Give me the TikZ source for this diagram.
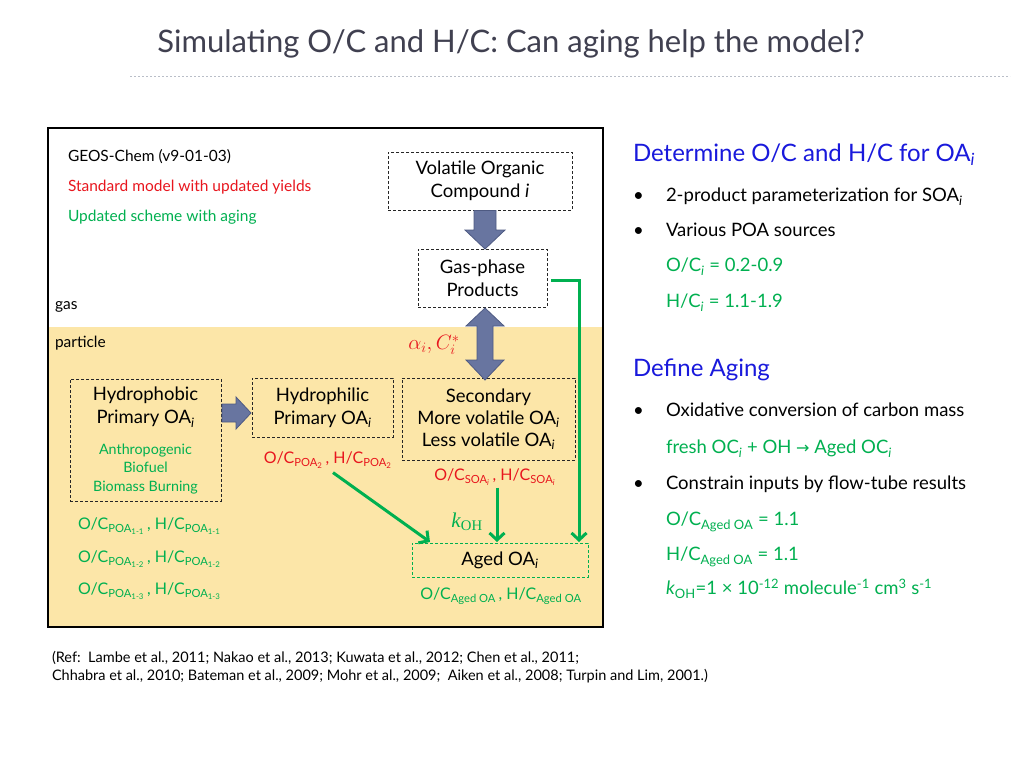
\documentclass[tikz,border=0pt]{standalone}
\usepackage{fontspec}
\setmainfont{Lato}
\newfontfamily\seriffont{Liberation Serif}
\newfontfamily\symfont{DejaVu Sans}
\usetikzlibrary{arrows.meta,calc}
\definecolor{tgray}{RGB}{64,64,80}
\definecolor{rred}{RGB}{232,22,30}
\definecolor{ggreen}{RGB}{0,176,80}
\definecolor{bblue}{RGB}{25,25,220}
\definecolor{pyellow}{RGB}{252,230,168}
\definecolor{afill}{RGB}{104,117,160}
\definecolor{aline}{RGB}{78,90,130}
\definecolor{dotgray}{RGB}{185,190,200}
\newcommand{\sbs}[1]{\textsubscript{#1}}
\newcommand{\sps}[1]{\textsuperscript{#1}}
\begin{document}
\begin{tikzpicture}[x=1pt,y=-1pt,
  every node/.style={inner sep=0pt,outer sep=0pt},
  lbl/.style={anchor=west,text height=0.72em,text depth=0pt},
  clbl/.style={anchor=center,text height=0.72em,text depth=0pt},
  bigf/.style={font=\fontsize{18.5}{23}\selectfont},
  smf/.style={font=\fontsize{15.5}{18}\selectfont},
  srcf/.style={font=\fontsize{14.3}{17}\selectfont},
  lblf/.style={font=\fontsize{16}{19}\selectfont},
  rf/.style={font=\fontsize{18.5}{22}\selectfont},
  hf/.style={font=\fontsize{24}{28}\selectfont},
  reff/.style={font=\fontsize{14.5}{17}\selectfont},
  dbox/.style={draw=black!85,dash pattern=on 3pt off 2pt,line width=0.9pt,align=center,bigf},
  gbox/.style={dbox,draw=ggreen},
  garrow/.style={draw=ggreen,line width=3pt,-{Straight Barb[length=7pt,width=15pt]}},
  bigarrow/.style={fill=afill,draw=aline,line width=0.8pt}
]
\useasboundingbox (0,0) rectangle (1024,768);
\fill[white] (0,0) rectangle (1024,768);
% title
\node[clbl,text=tgray,font=\fontsize{31}{34}\selectfont] (title) at (511,49) {Simulating O/C and H/C: Can aging help the model?};
\draw[dotgray,line width=0.8pt,dash pattern=on 2pt off 2pt] (130,76) -- (1010,76);
% panel
\fill[pyellow] (48,327) rectangle (603,627);
\draw[line width=2pt] (48,128) rectangle (603,627);
\node[lbl,smf] (geos) at (68,158) {GEOS-Chem (v9-01-03)};
\node[lbl,smf,text=rred] (std) at (68,188) {Standard model with updated yields};
\node[lbl,smf,text=ggreen] (upd) at (68,218) {Updated scheme with aging};
\node[lbl,smf] (gaslbl) at (55,306) {gas};
\node[lbl,smf] (partlbl) at (55,344) {particle};
% boxes
\node[dbox,minimum width=184pt,minimum height=58pt] (voc) at (480,181) {Volatile Organic\\Compound \textit{i}};
\node[dbox,minimum width=129pt,minimum height=58pt] (gas) at (482.5,278) {Gas-phase\\Products};
\node[dbox,minimum width=151pt,minimum height=122pt] (hphob) at (145.5,440) {};
\node[dbox,minimum width=141pt,minimum height=59pt] (hphil) at (322.5,407.5) {Hydrophilic\\Primary OA\sbs{\textit{i}}};
\node[dbox,minimum width=173pt,minimum height=82pt,font=\fontsize{18.5}{22}\selectfont] (sec) at (488.5,419) {Secondary\\More volatile OA\sbs{\textit{i}}\\Less volatile OA\sbs{\textit{i}}};
\node[gbox,minimum width=176pt,minimum height=34pt] (aged) at (500,560) {Aged OA\sbs{\textit{i}}};
% hydrophobic contents
\node[clbl,bigf] (hphobA) at (145.5,397) {Hydrophobic};
\node[clbl,bigf] (hphobB) at (145.5,420) {Primary OA\sbs{\textit{i}}};
\node[clbl,srcf,text=ggreen] (src1) at (145.5,451) {Anthropogenic};
\node[clbl,srcf,text=ggreen] (src2) at (145.5,469) {Biofuel};
\node[clbl,srcf,text=ggreen] (src3) at (145.5,488) {Biomass Burning};
% labels
\node[clbl,lblf,text=rred] (poa2) at (328,460) {O/C\sbs{POA\sbs{2}}\,, H/C\sbs{POA\sbs{2}}};
\node[clbl,lblf,text=rred] (soa) at (495,477) {O/C\sbs{SOA\sbs{\textit{i}}}\,, H/C\sbs{SOA\sbs{\textit{i}}}};
\node[clbl,lblf,text=ggreen] (agedlbl) at (501,596) {O/C\sbs{Aged OA}\,, H/C\sbs{Aged OA}};
\node[lbl,lblf,text=ggreen] (p11) at (78,526) {O/C\sbs{POA\sbs{1-1}}\,, H/C\sbs{POA\sbs{1-1}}};
\node[lbl,lblf,text=ggreen] (p12) at (78,559) {O/C\sbs{POA\sbs{1-2}}\,, H/C\sbs{POA\sbs{1-2}}};
\node[lbl,lblf,text=ggreen] (p13) at (78,591) {O/C\sbs{POA\sbs{1-3}}\,, H/C\sbs{POA\sbs{1-3}}};
\node[clbl,text=rred,font=\fontsize{21}{24}\selectfont] (alpha) at (434,346) {$\alpha_i,C_i^{*}$};
\node[clbl,text=ggreen,font=\seriffont\fontsize{21}{24}\selectfont] (koh) at (467,524) {\textit{k}\sbs{OH}};
% big arrows
\coordinate (a1s) at ($(voc.south)+(5,0.5)$);
\coordinate (a1e) at ($(gas.north)+(2.5,0)$);
\filldraw[bigarrow] ($(a1s)+(-11,0)$) -- ($(a1s)+(11,0)$) -- ($(a1e)+(11,-19)$) -- ($(a1e)+(20,-19)$) -- (a1e) -- ($(a1e)+(-20,-19)$) -- ($(a1e)+(-11,-19)$) -- cycle;
\coordinate (a2s) at ($(gas.south)+(2.5,1)$);
\coordinate (a2e) at ($(sec.north)+(-3.5,2)$);
\filldraw[bigarrow] (a2s) -- ($(a2s)+(19,18)$) -- ($(a2s)+(8,18)$) -- ($(a2e)+(8,-20)$) -- ($(a2e)+(19,-20)$) -- (a2e) -- ($(a2e)+(-19,-20)$) -- ($(a2e)+(-8,-20)$) -- ($(a2s)+(-8,18)$) -- ($(a2s)+(-19,18)$) -- cycle;
\coordinate (a3s) at ($(hphob.east)+(1,-27)$);
\coordinate (a3e) at ($(hphil.west)+(-1,5.5)$);
\filldraw[bigarrow] ($(a3s)+(0,-9)$) -- ($(a3e)+(-15,-9)$) -- ($(a3e)+(-15,-16)$) -- (a3e) -- ($(a3e)+(-15,16)$) -- ($(a3e)+(-15,9)$) -- ($(a3s)+(0,9)$) -- cycle;
% green connectors
\draw[garrow] ($(poa2.south)+(5,9)$) -- ($(aged.north west)+(18,-1)$);
\draw[garrow] ($(soa.south)+(2,7)$) -- ($(aged.north)+(-3,-1)$);
\draw[garrow] ($(gas.east)+(4,2)$) -| ($(aged.north east)+(-9,-1)$);
% right column
\node[lbl,hf,text=bblue] (h1) at (633,158) {Determine O/C and H/C for OA\sbs{\textit{i}}};
\node[lbl,rf] (m1) at (633,198) {•};
\node[lbl,rf] (t1) at (666,198) {2-product parameterization for SOA\sbs{\textit{i}}};
\node[lbl,rf] (m2) at (633,233) {•};
\node[lbl,rf] (t2) at (666,233) {Various POA sources};
\node[lbl,rf,text=ggreen] (t3) at (666,268) {O/C\sbs{\textit{i}} = 0.2-0.9};
\node[lbl,rf,text=ggreen] (t4) at (666,304) {H/C\sbs{\textit{i}} = 1.1-1.9};
\node[lbl,hf,text=bblue] (h2) at (633,373) {Define Aging};
\node[lbl,rf] (m3) at (633,413) {•};
\node[lbl,rf] (t5) at (666,413) {Oxidative conversion of carbon mass};
\node[lbl,rf,text=ggreen] (t6) at (666,450) {fresh OC\sbs{\textit{i}} + OH {\symfont\fontsize{16}{18}\selectfont →} Aged OC\sbs{\textit{i}}};
\node[lbl,rf] (m4) at (633,486) {•};
\node[lbl,rf] (t7) at (666,486) {Constrain inputs by flow-tube results};
\node[lbl,rf,text=ggreen] (t8) at (666,522) {O/C\sbs{Aged OA} = 1.1};
\node[lbl,rf,text=ggreen] (t9) at (666,557) {H/C\sbs{Aged OA} = 1.1};
\node[lbl,rf,text=ggreen] (t10) at (666,591) {\textit{k}\sbs{OH}=1 × 10\sps{-12} molecule\sps{-1} cm\sps{3} s\sps{-1}};
% references
\node[lbl,reff] (ref1) at (52,659) {(Ref:\ \ Lambe et al., 2011; Nakao et al., 2013; Kuwata et al., 2012; Chen et al., 2011;};
\node[lbl,reff] (ref2) at (52,677) {Chhabra et al., 2010; Bateman et al., 2009; Mohr et al., 2009;\ \ Aiken et al., 2008; Turpin and Lim, 2001.)};
\end{tikzpicture}
\end{document}
